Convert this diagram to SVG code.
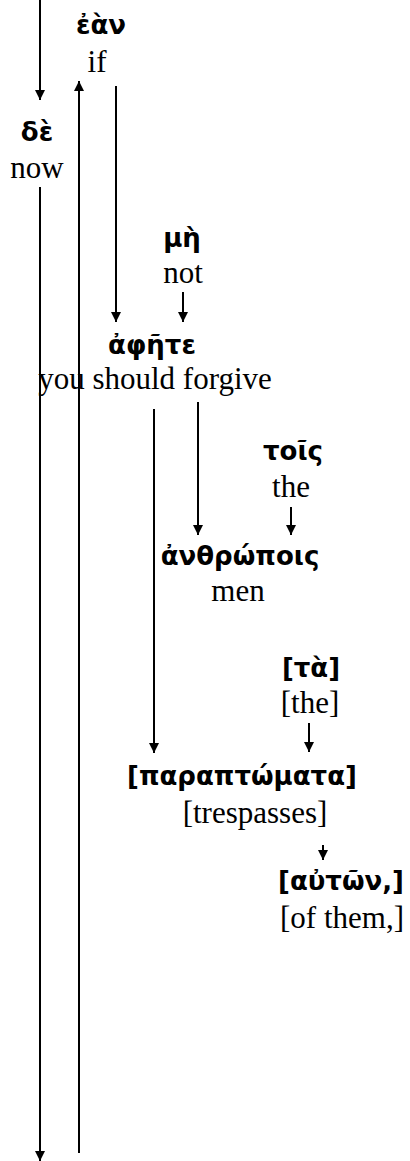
<svg xmlns="http://www.w3.org/2000/svg" width="410" height="1161" viewBox="0 0 410 1161">
<style>
.gr{font-family:"DejaVu Sans","Noto Sans",sans-serif;font-weight:bold;font-size:26px;fill:#000;text-anchor:middle}
.en{font-family:"Liberation Serif","Times New Roman",serif;font-size:31px;fill:#000;text-anchor:middle}
.ln{stroke:#000;stroke-width:2;fill:none}
.ar{marker-end:url(#ah)}
</style>
<defs>
<marker id="ah" markerUnits="userSpaceOnUse" markerWidth="10" markerHeight="10" refX="10" refY="5" orient="auto">
<path d="M0,0 L10,5 L0,10 z" fill="#000"/>
</marker>
</defs>
<rect width="410" height="1161" fill="#fff"/>
<g id="connectors">
<line class="ln ar" x1="40" y1="0" x2="40" y2="100"/>
<line class="ln ar" x1="79" y1="1153" x2="79" y2="81"/>
<line class="ln ar" x1="116" y1="86" x2="116" y2="322"/>
<line class="ln ar" x1="40" y1="187" x2="40" y2="1161"/>
<line class="ln ar" x1="183" y1="292" x2="183" y2="322"/>
<line class="ln ar" x1="154" y1="409" x2="154" y2="753"/>
<line class="ln ar" x1="198" y1="402" x2="198" y2="535"/>
<line class="ln ar" x1="291" y1="507" x2="291" y2="535"/>
<line class="ln ar" x1="309" y1="723" x2="309" y2="752"/>
<line class="ln ar" x1="323" y1="845" x2="323" y2="860"/>
</g>
<g id="n-ean"><text class="gr" x="101" y="34">ἐὰν</text><text class="en" x="97" y="72">if</text></g>
<g id="n-de"><text class="gr" x="37" y="141">δὲ</text><text class="en" x="37" y="178">now</text></g>
<g id="n-me"><text class="gr" x="182" y="247">μὴ</text><text class="en" x="183" y="283">not</text></g>
<g id="n-aphete"><text class="gr" x="152" y="354">ἀφῆτε</text><text class="en" x="155" y="389">you should forgive</text></g>
<g id="n-tois"><text class="gr" x="293" y="460">τοῖς</text><text class="en" x="291" y="497">the</text></g>
<g id="n-anthropois"><text class="gr" x="240" y="565">ἀνθρώποις</text><text class="en" x="238" y="601">men</text></g>
<g id="n-ta"><text class="gr" x="311" y="677">[τὰ]</text><text class="en" x="310" y="713">[the]</text></g>
<g id="n-paraptomata"><text class="gr" x="242" y="785">[παραπτώματα]</text><text class="en" x="255" y="823">[trespasses]</text></g>
<g id="n-auton"><text class="gr" x="341" y="890">[αὐτῶν,]</text><text class="en" x="342" y="928">[of them,]</text></g>
</svg>
